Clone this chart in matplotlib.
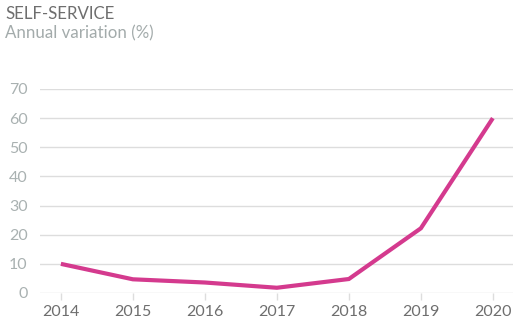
import matplotlib.pyplot as plt

plt.rcParams['font.family'] = ['Lato', 'DejaVu Sans']

# Self-service annual variation (%)
years = [2014, 2015, 2016, 2017, 2018, 2019, 2020]
variation = [10, 4.7, 3.6, 1.8, 4.8, 22.2, 60]
yticks = [0, 10, 20, 30, 40, 50, 60, 70]

fig = plt.figure(figsize=(5.26, 3.31), dpi=100)
ax = fig.add_axes([40 / 526, 1 - 293 / 331, 473 / 526, 204 / 331])

ax.plot(years, variation, color='#d43a8e', linewidth=3.0,
        solid_capstyle='butt', solid_joinstyle='miter', clip_on=False, zorder=3)

ax.set_xlim(2013.71, 2020.28)
ax.set_ylim(0, 70)
ax.set_xticks(years)
ax.set_yticks(yticks)
ax.grid(axis='y', color='#dddddd', linewidth=1)
ax.set_axisbelow(True)
for s in ax.spines.values():
    s.set_visible(False)

ax.tick_params(axis='y', length=0, pad=9, labelsize=11.5, labelcolor='#a9b1b1')
ax.tick_params(axis='x', length=5, width=1, color='#dddddd', pad=4,
               labelsize=11.5, labelcolor='#6e6e6e')

fig.text(5 / 526, 1 - 19 / 331, 'SELF-SERVICE', fontsize=12.2, color='#6e6e6e')
fig.text(5 / 526, 1 - 38 / 331, 'Annual variation (%)', fontsize=12.2, color='#a3abab')

fig.savefig('out.png', dpi=100)
